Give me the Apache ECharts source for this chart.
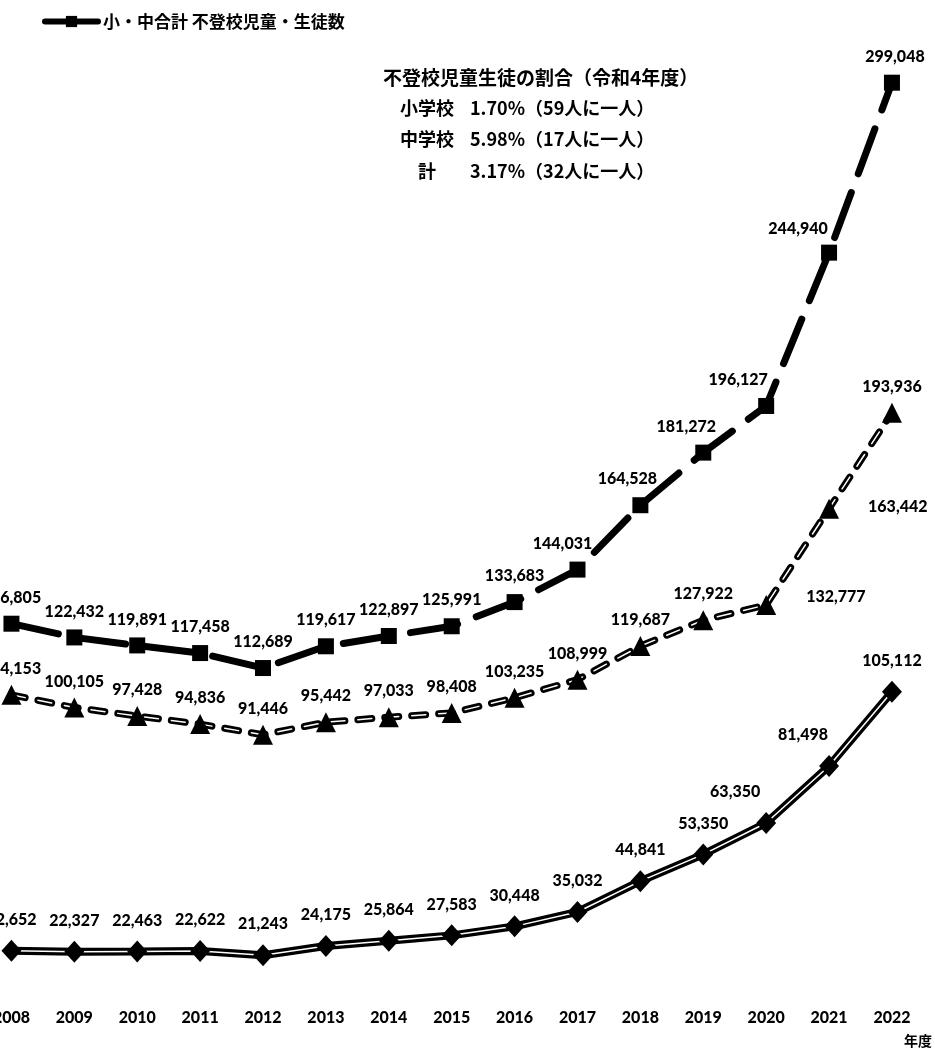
<!DOCTYPE html>
<html><head><meta charset="utf-8">
<script src="https://cdn.jsdelivr.net/npm/echarts@6/dist/echarts.min.js"></script>
<style>html,body{margin:0;padding:0;background:#fff;overflow:hidden;width:935px;height:1056px}
#c{position:absolute;left:-20px;top:0;width:955px;height:1056px}</style>
</head><body><div id="c"></div>
<script>
const years = ['2008','2009','2010','2011','2012','2013','2014','2015','2016','2017','2018','2019','2020','2021','2022'];
const totalValues = [126805,122432,119891,117458,112689,119617,122897,125991,133683,144031,164528,181272,196127,244940,299048];
const middleValues = [104153,100105,97428,94836,91446,95442,97033,98408,103235,108999,119687,127922,132777,163442,193936];
const elemValues = [22652,22327,22463,22622,21243,24175,25864,27583,30448,35032,44841,53350,63350,81498,105112];
const totalName = '小・中合計 不登校児童・生徒数';
const middleName = '中学校';
const elemName = '小学校';
const noteTitle = '不登校児童生徒の割合（令和4年度）';
const noteRows = [['小学校','1.70%（59人に一人）'],['中学校','5.98%（17人に一人）'],['計','3.17%（32人に一人）']];

const NUM_FONT = 'Lato, "Liberation Sans", sans-serif';
const CJK_FONT = '"Noto Sans CJK JP", sans-serif';
const fmt = v => String(v).replace(/\B(?=(\d{3})+(?!\d))/g, ',');
const SX = 20; // container shift

// label placement overrides (style only)
const totalLabelOv = {9:{offset:[-15,0]},10:{offset:[-13,0]},11:{offset:[-17,0]},12:{offset:[-28,0]},13:{offset:[-31,2]},14:{offset:[3,0]}};
const middleLabelOv = {12:{position:'right',distance:30,offset:[0,-8]},13:{position:'right',distance:29,offset:[0,-2]}};
const elemLabelOv = {12:{offset:[-31,0]},13:{offset:[-26,0]}};

function withLabels(vals, ov){
  return vals.map((v,i)=> ov[i] ? {value:v, label:ov[i]} : v);
}
const baseLabel = {show:true, position:'top', distance:10, color:'#000', fontFamily:NUM_FONT, fontWeight:900, fontSize:16, formatter:p=>fmt(p.value)};

const chart = echarts.init(document.getElementById('c'), null, {renderer:'canvas'});
chart.setOption({
  animation:false,
  backgroundColor:'#fff',
  legend:{
    data:[{name:totalName}],
    left:37+SX, top:8, itemWidth:53, itemHeight:14, itemGap:4,
    lineStyle:{type:'solid', width:6, color:'#000'},
    textStyle:{fontFamily:CJK_FONT, fontWeight:'bold', fontSize:17, color:'#000'}
  },
  grid:{left:0, right:11.6, top:79.7, bottom:34, containLabel:false},
  xAxis:{type:'category', data:years, boundaryGap:true, offset:-18,
    axisLine:{show:false}, axisTick:{show:false},
    axisLabel:{margin:6, color:'#000', fontFamily:NUM_FONT, fontWeight:900, fontSize:16, interval:0}},
  yAxis:{type:'value', min:0, max:300000, show:false, splitLine:{show:false}},
  series:[
    {name:elemName, type:'line', data:elemValues, symbol:'none', z:2, silent:true,
      lineStyle:{color:'#000', width:8}},
    {name:elemName+'_w', type:'line', data:elemValues, symbol:'none', z:3, silent:true,
      lineStyle:{color:'#fff', width:1.5}},
    {name:elemName+'_m', type:'line', data:withLabels(elemValues, elemLabelOv), symbol:'diamond', symbolSize:[20,22], z:4,
      itemStyle:{color:'#000'}, lineStyle:{opacity:0, width:0}, label:Object.assign({}, baseLabel, {distance:12})},
    {name:middleName, type:'line', data:middleValues, symbol:'none', z:2, silent:true,
      lineStyle:{color:'#000', width:7, type:[14,13], cap:'round'}},
    {name:middleName+'_w', type:'line', data:middleValues, symbol:'none', z:3, silent:true,
      lineStyle:{color:'#fff', width:1.5, type:[14,13], cap:'round'}},
    {name:middleName+'_m', type:'line', data:withLabels(middleValues, middleLabelOv), symbol:'triangle', symbolSize:20, z:4,
      itemStyle:{color:'#000'}, lineStyle:{opacity:0, width:0}, label:Object.assign({}, baseLabel, {distance:8})},
    {name:totalName, type:'line', data:withLabels(totalValues, totalLabelOv), symbol:'rect', symbolSize:16, z:5,
      itemStyle:{color:'#000'},
      lineStyle:{color:'#000', width:7, type:[48,20], cap:'round'},
      label:Object.assign({}, baseLabel, {distance:10})}
  ],
  graphic:[
    {type:'text', left:383+SX, top:68, style:{text:noteTitle, font:'bold 19px '+CJK_FONT, fill:'#000'}},
    ...noteRows.map((r,i)=>({type:'group', children:[
      {type:'text', left:(r[0].length===1 ? 418 : 400)+SX, top:99+i*31.5, style:{text:r[0], font:'bold 18px '+CJK_FONT, fill:'#000'}},
      {type:'text', left:470+SX, top:99+i*31.5, style:{text:r[1], font:'bold 18px '+CJK_FONT, fill:'#000'}}
    ]})),
    {type:'text', left:904+SX, top:1034, style:{text:'年度', font:'bold 14px '+CJK_FONT, fill:'#000'}}
  ]
});
</script></body></html>
